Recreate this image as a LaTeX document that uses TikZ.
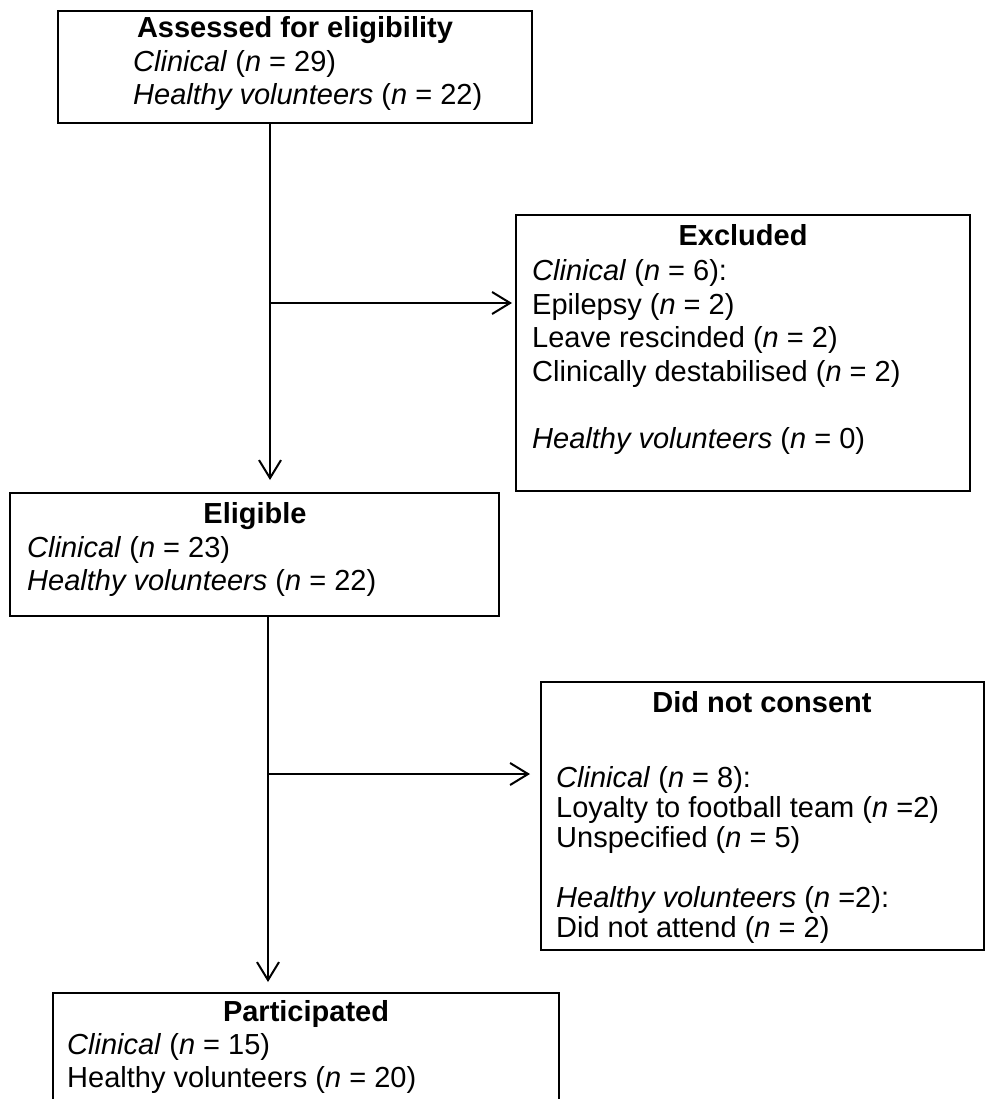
\documentclass[tikz,border=0pt]{standalone}
\usepackage{fontspec}
\setmainfont{Liberation Sans}
\usetikzlibrary{arrows.meta}
\begin{document}
\begin{tikzpicture}[x=1pt,y=-1pt,
  box/.style={draw, line width=2.6pt, inner sep=0pt, outer sep=0pt},
  conn/.style={line width=2pt, -{Straight Barb[length=18pt,width=22pt,line width=2pt]}},
  txt/.style={anchor=base west, inner sep=0pt, font=\fontsize{29}{34}\selectfont},
  ttl/.style={anchor=base, inner sep=0pt, font=\fontsize{29}{34}\selectfont\bfseries}]
\useasboundingbox (0,0) rectangle (985,1099);
\clip (0,0) rectangle (985,1099);
% boxes
\node[box, minimum width=474pt, minimum height=112pt] (b1) at (295,67) {};
\node[box, minimum width=454pt, minimum height=276pt] (ex) at (743,353) {};
\node[box, minimum width=489pt, minimum height=123pt] (el) at (254.5,554.5) {};
\node[box, minimum width=443pt, minimum height=268pt] (dnc) at (762.5,816) {};
\node[box, minimum width=506pt, minimum height=122pt] (pa) at (306,1054) {};
% texts: assessed
\node[ttl] (b1t) at (295,38) {Assessed for eligibility};
\node[txt] (b1a) at (133,72) {\textit{Clinical} (\textit{n} = 29)};
\node[txt] (b1b) at (133,105) {\textit{Healthy volunteers} (\textit{n} = 22)};
% excluded
\node[ttl] (ext) at (743,246) {Excluded};
\node[txt] (exa) at (532,280) {\textit{Clinical} (\textit{n} = 6):};
\node[txt] (exb) at (532,314) {Epilepsy (\textit{n} = 2)};
\node[txt] (exc) at (532,347) {Leave rescinded (\textit{n} = 2)};
\node[txt] (exd) at (532,381) {Clinically destabilised (\textit{n} = 2)};
\node[txt] (exe) at (532,448) {\textit{Healthy volunteers} (\textit{n} = 0)};
% eligible
\node[ttl] (elt) at (255,523) {Eligible};
\node[txt] (ela) at (27,557) {\textit{Clinical} (\textit{n} = 23)};
\node[txt] (elb) at (27,590) {\textit{Healthy volunteers} (\textit{n} = 22)};
% did not consent
\node[ttl] (dnct) at (762,712) {Did not consent};
\node[txt] (dnca) at (556,787) {\textit{Clinical} (\textit{n} = 8):};
\node[txt] (dncb) at (556,817) {Loyalty to football team (\textit{n} =2)};
\node[txt] (dncc) at (556,847) {Unspecified (\textit{n} = 5)};
\node[txt] (dncd) at (556,907) {\textit{Healthy volunteers} (\textit{n} =2):};
\node[txt] (dnce) at (556,937) {Did not attend (\textit{n} = 2)};
% participated
\node[ttl] (pat) at (306,1021) {Participated};
\node[txt] (paa) at (67,1054) {\textit{Clinical} (\textit{n} = 15)};
\node[txt] (pab) at (67,1087) {Healthy volunteers (\textit{n} = 20)};
% connectors
\coordinate (v1) at (270,0);
\coordinate (v2) at (268,0);
\coordinate (h1) at (0,303);
\coordinate (h2) at (0,774);
\draw[conn, shorten >=13pt] (b1.south -| v1) -- (el.north -| v1);
\draw[conn, shorten >=4pt] (v1 |- h1) -- (ex.west |- h1);
\draw[conn, shorten >=11pt] (el.south -| v2) -- (pa.north -| v2);
\draw[conn, shorten >=11pt] (v2 |- h2) -- (dnc.west |- h2);
\end{tikzpicture}
\end{document}
